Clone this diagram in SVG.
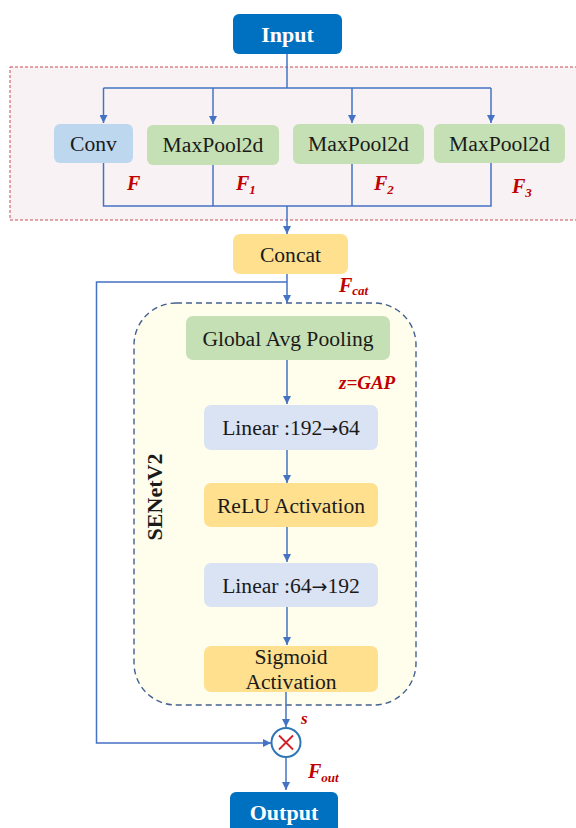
<svg xmlns="http://www.w3.org/2000/svg" width="576" height="828" viewBox="0 0 576 828">
  <defs>
    <marker id="arrow" viewBox="0 0 10 10" refX="10" refY="5" markerWidth="8" markerHeight="8" markerUnits="userSpaceOnUse" orient="auto">
      <path d="M0,0 L10,5 L0,10 z" fill="#4472C4"/>
    </marker>
    <style>
      .box-text { font-family: "Liberation Serif", "Times New Roman", serif; font-size: 21.6px; fill: #1a1a1a; text-anchor: middle; }
      .io-text { font-family: "Liberation Serif", "Times New Roman", serif; font-size: 22px; font-weight: bold; fill: #ffffff; text-anchor: middle; }
      .lbl { font-family: "Liberation Serif", "Times New Roman", serif; font-size: 20px; font-weight: bold; font-style: italic; fill: #C00000; }
      .sub { font-size: 13px; }
      .arr { font-family: "DejaVu Sans", sans-serif; font-size: 19px; }
      .io { fill: #0070C0; }
      .conv { fill: #BDD7EE; }
      .pool { fill: #C5E0B4; }
      .warm { fill: #FFE08E; }
      .lin { fill: #DAE3F3; }
      .wire { fill: none; stroke: #4472C4; stroke-width: 1.5; }
    </style>
  </defs>

  <rect width="576" height="828" fill="#ffffff"/>

  <!-- multi-branch feature block -->
  <rect x="10" y="67" width="575" height="153" fill="#F9F2F4" stroke="#C84A55" stroke-width="1" stroke-dasharray="3,2"/>

  <!-- SENetV2 container -->
  <g id="senet">
    <rect x="134" y="303" width="282" height="402" rx="42" ry="42" fill="#FFFDEB" stroke="#44608F" stroke-width="1.4" stroke-dasharray="6,4"/>
    <text x="162" y="497" transform="rotate(-90 162 497)" style="font-family: 'Liberation Serif', 'Times New Roman', serif; font-size: 22px; font-weight: bold; fill: #1a1a1a; text-anchor: middle;">SENetV2</text>
  </g>

  <!-- connectors -->
  <g id="connectors">
    <path class="wire" d="M287,54 V88"/>
    <path class="wire" d="M103.5,88 H491"/>
    <path class="wire" d="M103.5,88 V123" marker-end="url(#arrow)"/>
    <path class="wire" d="M213,88 V124" marker-end="url(#arrow)"/>
    <path class="wire" d="M352,88 V123" marker-end="url(#arrow)"/>
    <path class="wire" d="M491,88 V123" marker-end="url(#arrow)"/>
    <path class="wire" d="M103.5,163 V206 H491 V163"/>
    <path class="wire" d="M213,165 V206"/>
    <path class="wire" d="M352,164 V206"/>
    <path class="wire" d="M287,206 V234" marker-end="url(#arrow)"/>
    <path class="wire" d="M287,274 V303" marker-end="url(#arrow)"/>
    <path class="wire" d="M287,282 H96.5 V743 H271" marker-end="url(#arrow)"/>
    <path class="wire" d="M287,360 V404" marker-end="url(#arrow)"/>
    <path class="wire" d="M287,450 V483" marker-end="url(#arrow)"/>
    <path class="wire" d="M287,527 V562" marker-end="url(#arrow)"/>
    <path class="wire" d="M287,607 V645" marker-end="url(#arrow)"/>
    <path class="wire" d="M286,692 V727" marker-end="url(#arrow)"/>
    <path class="wire" d="M286,757 V790" marker-end="url(#arrow)"/>
  </g>

  <g id="input">
    <rect class="io" x="233" y="14" width="109" height="40" rx="6"/>
    <text class="io-text" x="287.5" y="42">Input</text>
  </g>

  <g id="conv">
    <rect class="conv" x="54" y="124" width="79" height="39" rx="6"/>
    <text class="box-text" x="93.5" y="151">Conv</text>
  </g>
  <g id="maxpool1">
    <rect class="pool" x="147" y="125" width="132" height="40" rx="6"/>
    <text class="box-text" x="213" y="152">MaxPool2d</text>
  </g>
  <g id="maxpool2">
    <rect class="pool" x="293" y="124" width="131" height="40" rx="6"/>
    <text class="box-text" x="358.5" y="151">MaxPool2d</text>
  </g>
  <g id="maxpool3">
    <rect class="pool" x="434" y="124" width="131" height="39" rx="6"/>
    <text class="box-text" x="499.5" y="151">MaxPool2d</text>
  </g>

  <!-- branch feature labels -->
  <text class="lbl" x="127" y="190">F</text>
  <text class="lbl" x="236" y="190">F<tspan class="sub" dy="4">1</tspan></text>
  <text class="lbl" x="374" y="190">F<tspan class="sub" dy="4">2</tspan></text>
  <text class="lbl" x="512" y="193">F<tspan class="sub" dy="4">3</tspan></text>

  <g id="concat">
    <rect class="warm" x="233" y="234" width="115" height="40" rx="7"/>
    <text class="box-text" x="290.5" y="262">Concat</text>
  </g>
  <text class="lbl" x="339" y="292">F<tspan class="sub" dy="3">cat</tspan></text>

  <g id="gap">
    <rect class="pool" x="186" y="316" width="204" height="44" rx="7"/>
    <text class="box-text" x="288" y="346">Global Avg Pooling</text>
  </g>
  <text class="lbl" x="339" y="389" style="font-size:19px">z=GAP</text>

  <g id="linear1">
    <rect class="lin" x="204" y="405" width="174" height="45" rx="7"/>
    <text class="box-text" x="291" y="435">Linear :192<tspan class="arr">→</tspan>64</text>
  </g>
  <g id="relu">
    <rect class="warm" x="204" y="483" width="174" height="44" rx="7"/>
    <text class="box-text" x="291" y="513">ReLU Activation</text>
  </g>
  <g id="linear2">
    <rect class="lin" x="204" y="563" width="174" height="44" rx="7"/>
    <text class="box-text" x="291" y="593">Linear :64<tspan class="arr">→</tspan>192</text>
  </g>
  <g id="sigmoid">
    <rect class="warm" x="204" y="646" width="174" height="46" rx="7"/>
    <text class="box-text" x="291" y="664">Sigmoid</text>
    <text class="box-text" x="291" y="689">Activation</text>
  </g>

  <text class="lbl" x="301" y="724" style="font-size:17px">s</text>

  <g id="multiply">
    <circle cx="286" cy="742.5" r="14.5" fill="#ffffff" stroke="#2E75B6" stroke-width="2"/>
    <path d="M279,735.5 L293,749.5 M293,735.5 L279,749.5" stroke="#D0202A" stroke-width="1.8" fill="none"/>
  </g>

  <text class="lbl" x="308" y="778">F<tspan class="sub" dy="4">out</tspan></text>

  <g id="output">
    <rect class="io" x="230" y="792" width="108" height="44" rx="6"/>
    <text class="io-text" x="284" y="820">Output</text>
  </g>
</svg>
